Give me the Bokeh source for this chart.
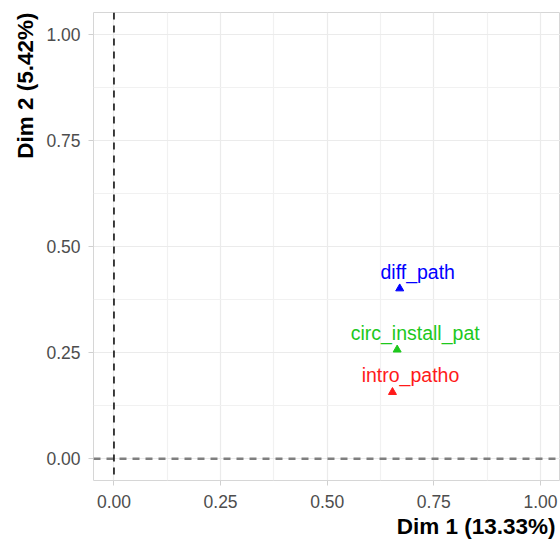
from bokeh.plotting import figure
from bokeh.models import ColumnDataSource, Span, Title, FixedTicker, Range1d
from bokeh.core.properties import value
from bokeh.embed import file_html
from bokeh.resources import INLINE

# data
names = ["diff_path", "circ_install_pat", "intro_patho"]
dim1 = [0.670, 0.664, 0.653]
dim2 = [0.401, 0.257, 0.157]
colors = ["#0000FF", "#1DC81D", "#FF1A1A"]
ticks = [0.0, 0.25, 0.5, 0.75, 1.0]
tick_labels = ["0.00", "0.25", "0.50", "0.75", "1.00"]
minor = [-0.125, 0.125, 0.375, 0.625, 0.875, 1.125]
xlab = "Dim 1 (13.33%)"
ylab = "Dim 2 (5.42%)"

src = ColumnDataSource(dict(x=dim1, y=dim2, name=names, color=colors))

p = figure(width=560, height=540, output_backend="svg", toolbar_location=None,
           x_range=Range1d(-0.048, 1.047), y_range=Range1d(-0.051, 1.051),
           min_border_left=93, min_border_right=0, min_border_top=12, min_border_bottom=60)
p.background_fill_color = "white"
p.border_fill_color = "white"
p.outline_line_color = "#d6d6d6"
p.outline_line_width = 1

for ax in (p.xaxis[0], p.yaxis[0]):
    ax.ticker = FixedTicker(ticks=ticks, minor_ticks=minor)
    ax.major_label_overrides = {t: l for t, l in zip(ticks, tick_labels)}
    ax.axis_line_color = None
    ax.major_tick_line_color = "#d0d0d0"
    ax.major_tick_out = 5
    ax.major_tick_in = 0
    ax.minor_tick_line_color = None
    ax.major_label_text_font = "Liberation Sans"
    ax.major_label_text_font_size = "17.5px"
    ax.major_label_text_color = "#4d4d4d"
p.xaxis[0].major_label_standoff = 9
p.yaxis[0].major_label_standoff = 8

for g in (p.xgrid[0], p.ygrid[0]):
    g.grid_line_color = "#ebebeb"
    g.grid_line_width = 1.2
    g.minor_grid_line_color = "#f1f1f1"
    g.minor_grid_line_width = 1.2

p.add_layout(Span(location=0, dimension="width", line_color="#7f7f7f",
                  line_width=2.5, line_dash="7 6"))
p.add_layout(Span(location=0, dimension="height", line_color="black",
                  line_width=1.5, line_dash="7 6"))

p.scatter("x", "y", source=src, marker="triangle", size=8, color="color")
p.text("x", "y", text="name", source=src, text_color="color",
       text_font=value("Liberation Sans"), text_font_size="19.5px",
       text_align="center", text_baseline="alphabetic", x_offset=18, y_offset=-17)

p.add_layout(Title(text=xlab, align="right", offset=5, standoff=3,
                   text_font="Liberation Sans", text_font_style="bold",
                   text_font_size="22.5px", text_color="black"), "below")
p.add_layout(Title(text=ylab, align="right", offset=0, standoff=11,
                   text_font="Liberation Sans", text_font_style="bold",
                   text_font_size="22.5px", text_color="black"), "left")

open("out.html", "w").write(file_html(p, INLINE))
